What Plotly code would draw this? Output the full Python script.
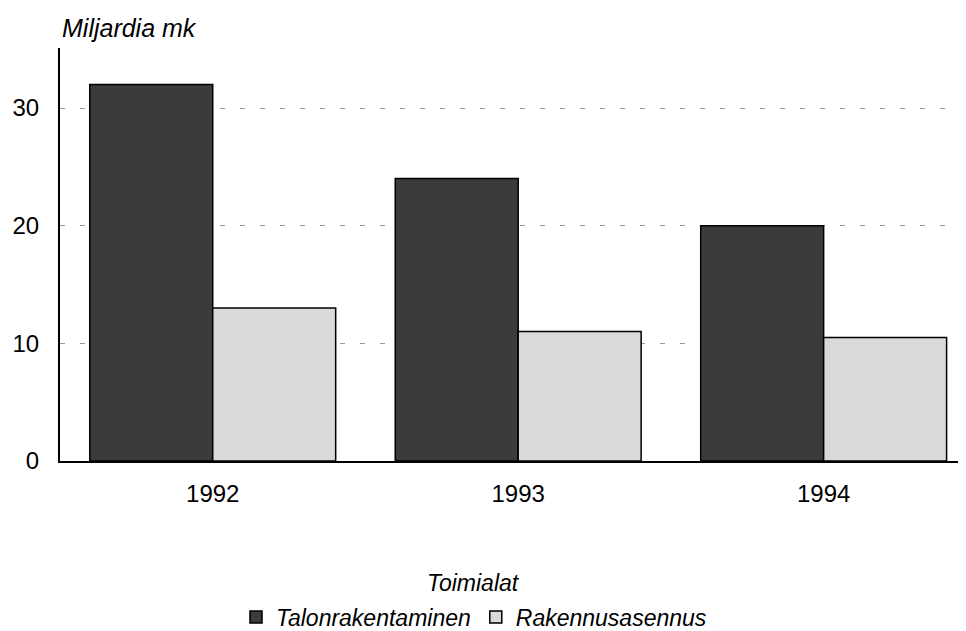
import plotly.graph_objects as go

years = ["1992", "1993", "1994"]
talonrakentaminen = [32.0, 24.0, 20.0]
rakennusasennus = [13.0, 11.0, 10.5]
y_ticks = [0, 10, 20, 30]

FONT = "Liberation Sans, Arial, sans-serif"

# The page body has an 8px default margin, so the figure is drawn 8px
# smaller and all screen positions are relative to the plot area.
# plot area on screen: x 60..966, y 48..461
def px_x(px):
    return (px - 60) / 906.0

def px_y(py):
    return (461 - py) / 413.0

fig = go.Figure()
fig.add_trace(go.Bar(
    x=years, y=talonrakentaminen, name="Talonrakentaminen",
    marker=dict(color="#3b3b3b", line=dict(color="#000000", width=1.5)),
))
fig.add_trace(go.Bar(
    x=years, y=rakennusasennus, name="Rakennusasennus",
    marker=dict(color="#dadada", line=dict(color="#000000", width=1.5)),
))

fig.update_layout(
    width=958, height=623,
    margin=dict(l=52, r=0, t=40, b=170, autoexpand=False),
    paper_bgcolor="white", plot_bgcolor="white",
    barmode="group", bargap=0.195, bargroupgap=0,
    font=dict(family=FONT, size=24, color="#000000"),
    showlegend=True,
    legend=dict(
        orientation="h", xref="paper", yref="paper",
        x=px_x(474), xanchor="center", y=px_y(617), yanchor="middle",
        font=dict(family=FONT, size=23, style="italic"),
        itemwidth=30, tracegroupgap=0, bgcolor="rgba(0,0,0,0)",
    ),
    xaxis=dict(
        type="category", range=[-0.5, 2.466], automargin=False,
        showline=True, linecolor="#000000", linewidth=2,
        ticks="", showgrid=False, ticklabelstandoff=10,
        tickfont=dict(family=FONT, size=24),
    ),
    yaxis=dict(
        range=[0, 35.1], tickvals=y_ticks, automargin=False,
        showline=True, linecolor="#000000", linewidth=2,
        ticks="", ticklabelstandoff=14,
        showgrid=True, gridcolor="#9a9a9a", gridwidth=1, griddash="5px,15px",
        zeroline=False,
        tickfont=dict(family=FONT, size=24),
    ),
    annotations=[
        dict(text="Miljardia mk", xref="paper", yref="paper",
             x=px_x(60), y=px_y(28), xanchor="left", yanchor="middle",
             showarrow=False, font=dict(family=FONT, size=25, style="italic")),
        dict(text="Toimialat", xref="paper", yref="paper",
             x=px_x(473), y=px_y(583), xanchor="center", yanchor="middle",
             showarrow=False, font=dict(family=FONT, size=23, style="italic")),
    ],
)

fig.write_html("out.html")
